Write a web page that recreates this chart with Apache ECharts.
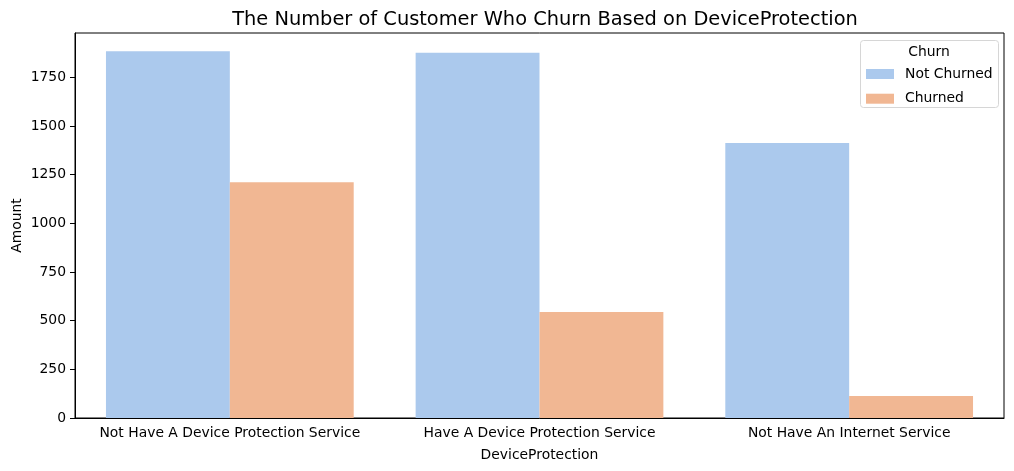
<!DOCTYPE html>
<html><head><meta charset="utf-8">
<script src="https://cdn.jsdelivr.net/npm/echarts@6/dist/echarts.min.js"></script>
<style>html,body{margin:0;padding:0;background:#fff}#c{width:1014px;height:471px}</style>
</head><body><div id="c"></div>
<script>
const categories = ['Not Have A Device Protection Service', 'Have A Device Protection Service', 'Not Have An Internet Service'];
const notChurned = [1884, 1877, 1413];
const churned = [1211, 545, 113];
const yTicks = [0, 250, 500, 750, 1000, 1250, 1500, 1750];
const seriesNames = ['Not Churned', 'Churned'];

const font = 'DejaVu Sans';
const fs = 13.9;
const chart = echarts.init(document.getElementById('c'), null, {renderer: 'canvas'});
const yMax = Math.max(...notChurned, ...churned) * 1.05;
chart.setOption({
  animation: false,
  textStyle: {fontFamily: font},
  title: {
    text: 'The Number of Customer Who Churn Based on DeviceProtection',
    left: 540, top: 5, textAlign: 'center',
    textStyle: {fontFamily: font, fontSize: 19.4, fontWeight: 'normal', color: '#000'}
  },
  grid: {left: 75, right: 10, top: 33, bottom: 53, show: true, borderColor: '#000', borderWidth: 1, containLabel: false, outerBoundsMode: 'none'},
  legend: {
    data: seriesNames, orient: 'vertical', left: 866, top: 67,
    itemWidth: 28, itemHeight: 10, itemGap: 10.7,
    textStyle: {fontFamily: font, fontSize: fs, color: '#000', lineHeight: 10, padding: [0, 0, 0, 6]},
    icon: 'rect', padding: 0
  },
  graphic: [
    {type: 'rect', shape: {x: 860.5, y: 40.5, width: 138, height: 67, r: 3}, style: {fill: 'rgba(255,255,255,0.8)', stroke: '#d6d6d6', lineWidth: 1}, z: 0},
    {type: 'text', style: {text: 'Churn', x: 929, y: 52, textAlign: 'center', textVerticalAlign: 'middle', font: fs + 'px "DejaVu Sans"', fill: '#000'}, z: 10}
  ],
  xAxis: {
    type: 'category', data: categories,
    name: 'DeviceProtection', nameLocation: 'middle', nameGap: 30, nameMoveOverlap: false,
    nameTextStyle: {fontFamily: font, fontSize: fs, color: '#000'},
    axisLine: {lineStyle: {color: '#000', width: 1}},
    axisTick: {alignWithLabel: true, length: 5, lineStyle: {color: '#000'}},
    axisLabel: {fontFamily: font, fontSize: fs, color: '#000', margin: 8, interval: 0},
    splitLine: {show: false}
  },
  yAxis: {
    type: 'value', min: 0, max: yMax,
    name: 'Amount', nameLocation: 'middle', nameGap: 51, nameMoveOverlap: false,
    nameTextStyle: {fontFamily: font, fontSize: fs, color: '#000'},
    axisLine: {show: true, lineStyle: {color: '#000', width: 1}},
    axisTick: {show: true, length: 5, lineStyle: {color: '#000'}, customValues: yTicks},
    axisLabel: {fontFamily: font, fontSize: fs, color: '#000', margin: 9, customValues: yTicks, formatter: v => String(v)},
    splitLine: {show: false}
  },
  series: [
    {name: seriesNames[0], type: 'bar', data: notChurned, itemStyle: {color: '#abc9ed'}, barGap: '0%', barCategoryGap: '20%'},
    {name: seriesNames[1], type: 'bar', data: churned, itemStyle: {color: '#f1b793'}, barGap: '0%', barCategoryGap: '20%'}
  ]
});
</script></body></html>
